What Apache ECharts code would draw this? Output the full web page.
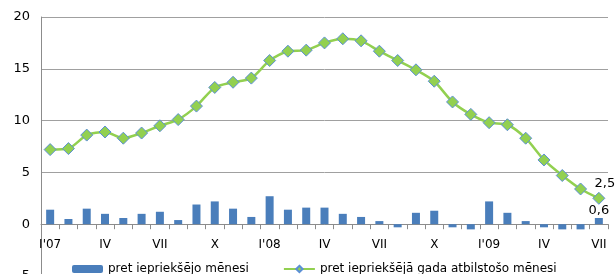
<!DOCTYPE html>
<html>
<head>
<meta charset="utf-8">
<script src="https://cdn.jsdelivr.net/npm/echarts@6/dist/echarts.min.js"></script>
<style>
  html, body { margin: 0; padding: 0; background: #fff; }
  #chart { width: 616px; height: 274px; }
</style>
</head>
<body>
<div id="chart"></div>
<script>
// mēneši no 2007. g. janvāra līdz 2009. g. jūlijam
var months = ["I'07","II","III","IV","V","VI","VII","VIII","IX","X","XI","XII",
              "I'08","II","III","IV","V","VI","VII","VIII","IX","X","XI","XII",
              "I'09","II","III","IV","V","VI","VII"];

// pret iepriekšējo mēnesi (%)
var momValues = [1.4,0.5,1.5,1.0,0.6,1.0,1.2,0.4,1.9,2.2,1.5,0.7,
                 2.7,1.4,1.6,1.6,1.0,0.7,0.3,-0.3,1.1,1.3,-0.3,-0.5,
                 2.2,1.1,0.3,-0.3,-0.5,-0.5,0.6];

// pret iepriekšējā gada atbilstošo mēnesi (%)
var yoyValues = [7.2,7.3,8.6,8.9,8.3,8.8,9.5,10.1,11.4,13.2,13.7,14.1,
                 15.8,16.7,16.8,17.5,17.9,17.7,16.7,15.8,14.9,13.8,11.8,10.6,
                 9.8,9.6,8.3,6.2,4.7,3.4,2.5];

var yTicks = { min: -5, max: 20, step: 5 };

var lastIdx = months.length - 1;
function lastLabel(p) {
  return p.dataIndex === lastIdx ? String(p.value).replace('.', ',') : '';
}

var font = 'DejaVu Sans';
var gridH = 259;
// x ass pie nulles līnijas
var zeroOffset = -gridH * (0 - yTicks.min) / (yTicks.max - yTicks.min);

var myChart = echarts.init(document.getElementById('chart'));

var option = {
  animation: false,
  textStyle: { fontFamily: font },
  grid: { left: 41, top: 17, width: 567, height: gridH, outerBoundsMode: 'none', containLabel: false },
  legend: {
    left: 67,
    top: 258,
    itemGap: 34,
    itemWidth: 31,
    itemHeight: 8,
    textStyle: { fontFamily: font, fontSize: 12, color: '#000' },
    data: ['pret iepriekšējo mēnesi', 'pret iepriekšējā gada atbilstošo mēnesi']
  },
  xAxis: {
    type: 'category',
    data: months,
    boundaryGap: true,
    position: 'bottom',
    offset: zeroOffset,
    axisLine: { onZero: false, lineStyle: { color: '#8c8c8c', width: 1 } },
    axisTick: { show: true, interval: 0, length: 5, lineStyle: { color: '#8c8c8c' } },
    axisLabel: { interval: 2, color: '#000', fontSize: 12, margin: 15, fontFamily: font },
    splitLine: { show: false }
  },
  yAxis: {
    type: 'value',
    min: yTicks.min,
    max: yTicks.max,
    interval: yTicks.step,
    axisLine: { show: true, lineStyle: { color: '#8c8c8c' } },
    axisTick: { show: false },
    axisLabel: { color: '#000', fontSize: 13, margin: 11, fontFamily: font },
    splitLine: { show: true, lineStyle: { color: '#a0a0a0', width: 1 } }
  },
  series: [
    {
      name: 'pret iepriekšējo mēnesi',
      type: 'bar',
      data: momValues,
      barWidth: 8,
      itemStyle: { color: '#4a7ebb' },
      label: { show: true, position: 'top', distance: 1, formatter: lastLabel, color: '#000', fontSize: 13, fontFamily: font }
    },
    {
      name: 'pret iepriekšējā gada atbilstošo mēnesi',
      type: 'line',
      data: yoyValues,
      smooth: 0.25,
      symbol: 'diamond',
      symbolSize: 12,
      lineStyle: { color: '#92d050', width: 2.5 },
      itemStyle: { color: '#92d050', borderColor: '#5b8fd6', borderWidth: 1 },
      label: { show: true, position: 'top', distance: 2, offset: [6, 0], formatter: lastLabel, color: '#000', fontSize: 13, fontFamily: font },
      z: 3
    }
  ]
};

myChart.setOption(option);
</script>
</body>
</html>
